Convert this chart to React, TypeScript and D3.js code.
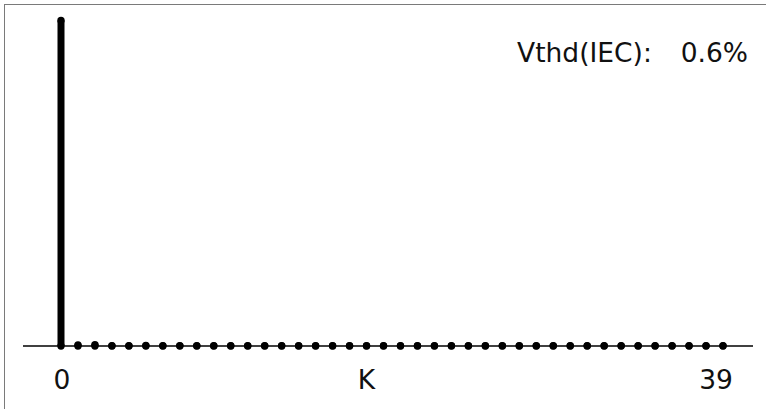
import { useEffect, useRef } from 'react';
import * as d3 from 'd3';

// harmonic order 0..39, amplitude in % of fundamental
const harmonics = d3.range(0, 40);
const amplitudes = [
  100, 0.35, 0.4, 0.1, 0.1, 0.15, 0.1, 0.12, 0.1, 0.1,
  0.1, 0.1, 0.1, 0.1, 0.1, 0.1, 0.1, 0.1, 0.1, 0.1,
  0.1, 0.1, 0.1, 0.1, 0.1, 0.1, 0.1, 0.1, 0.1, 0.1,
  0.1, 0.1, 0.1, 0.1, 0.1, 0.1, 0.1, 0.1, 0.1, 0.1,
];
const tickLabels = [
  { k: 0, text: '0', dx: 1 },
  { k: 18, text: 'K', dx: 0 },
  { k: 39, text: '39', dx: -7 },
];
const thdLabel = 'Vthd(IEC):';
const thdValue = '0.6%';

const W = 766;
const H = 409;

export default function App() {
  const svgRef = useRef<SVGSVGElement | null>(null);

  useEffect(() => {
    if (!svgRef.current) return;
    const svg = d3.select(svgRef.current);
    svg.selectAll('*').remove();

    const x = d3.scaleLinear().domain([0, 39]).range([61, 723]);
    const y = d3.scaleLinear().domain([0, 100]).range([346, 20.5]);
    const font = '"DejaVu Sans", Verdana, sans-serif';
    const fs = 26.5;

    // frame (runs off the right and bottom edge)
    svg
      .append('rect')
      .attr('x', 4.5)
      .attr('y', 4.5)
      .attr('width', W + 40)
      .attr('height', H + 40)
      .attr('fill', 'white')
      .attr('stroke', '#7a7a7a')
      .attr('stroke-width', 1);

    // baseline
    svg
      .append('line')
      .attr('x1', 23)
      .attr('x2', 753)
      .attr('y1', y(0))
      .attr('y2', y(0))
      .attr('stroke', '#000')
      .attr('stroke-width', 1.3);

    const data = harmonics.map((k) => ({ k, v: amplitudes[k] }));
    const stems = svg.append('g');

    stems
      .selectAll('line')
      .data(data)
      .enter()
      .append('line')
      .attr('x1', (d) => x(d.k))
      .attr('x2', (d) => x(d.k))
      .attr('y1', y(0))
      .attr('y2', (d) => y(d.v))
      .attr('stroke', '#000')
      .attr('stroke-width', 7);

    stems
      .selectAll('circle.top')
      .data(data)
      .enter()
      .append('circle')
      .attr('class', 'top')
      .attr('cx', (d) => x(d.k))
      .attr('cy', (d) => y(d.v))
      .attr('r', 3.7)
      .attr('fill', '#000');

    stems
      .selectAll('circle.base')
      .data(data)
      .enter()
      .append('circle')
      .attr('class', 'base')
      .attr('cx', (d) => x(d.k))
      .attr('cy', y(0))
      .attr('r', 3.7)
      .attr('fill', '#000');

    // axis labels
    svg
      .selectAll('text.tick')
      .data(tickLabels)
      .enter()
      .append('text')
      .attr('class', 'tick')
      .attr('x', (d) => x(d.k) + d.dx)
      .attr('y', 389)
      .attr('text-anchor', 'middle')
      .attr('font-family', font)
      .attr('font-size', fs)
      .attr('fill', '#111')
      .text((d) => d.text);

    // THD readout
    svg
      .append('text')
      .attr('x', 517)
      .attr('y', 62)
      .attr('font-family', font)
      .attr('font-size', fs)
      .attr('fill', '#111')
      .text(thdLabel);
    svg
      .append('text')
      .attr('x', 748)
      .attr('y', 62)
      .attr('text-anchor', 'end')
      .attr('font-family', font)
      .attr('font-size', fs)
      .attr('fill', '#111')
      .text(thdValue);
  }, []);

  return (
    <svg
      ref={svgRef}
      width={W}
      height={H}
      style={{ position: 'absolute', left: 0, top: 0, display: 'block' }}
    />
  );
}
